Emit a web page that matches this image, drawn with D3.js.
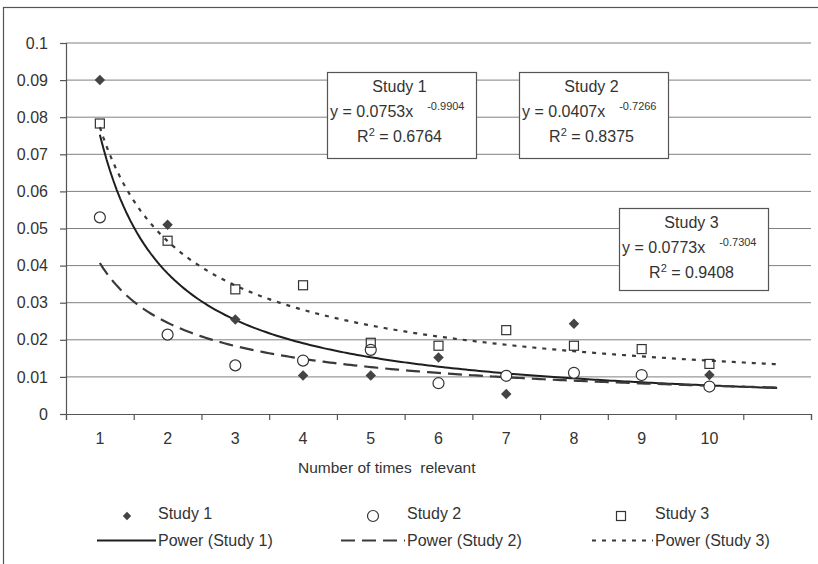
<!DOCTYPE html>
<html>
<head>
<meta charset="utf-8">
<script src="https://cdn.jsdelivr.net/npm/d3@7"></script>
<style>
  body { margin: 0; background: #fff; }
  text { font-family: "Liberation Sans", Arial, sans-serif; fill: #333; }
</style>
</head>
<body>
<div id="chart"></div>
<script>
// values
var categories = [1, 2, 3, 4, 5, 6, 7, 8, 9, 10];
var study1 = [0.090, 0.051, 0.0255, 0.0104, 0.0104, 0.0152, 0.0054, 0.0243, 0.0104, 0.0105];
var study2 = [0.053, 0.0214, 0.0131, 0.0144, 0.0173, 0.0083, 0.0103, 0.0111, 0.0105, 0.0074];
var study3 = [0.0783, 0.0467, 0.0336, 0.0347, 0.0192, 0.0184, 0.0226, 0.0184, 0.0175, 0.0135];
var yTicks = [0, 0.01, 0.02, 0.03, 0.04, 0.05, 0.06, 0.07, 0.08, 0.09, 0.1];
var seriesNames = ["Study 1", "Study 2", "Study 3"];
// power trendlines y = a * x^b
var trendA = [0.0753, 0.0407, 0.0773];
var trendB = [-0.9904, -0.7266, -0.7304];
var trendR2 = ["0.6764", "0.8375", "0.9408"];

var w = 818, h = 564;
var svg = d3.select("#chart").append("svg")
  .attr("width", w)
  .attr("height", h);

// outer frame
svg.append("rect")
  .attr("x", 3.5).attr("y", 7.5)
  .attr("width", 830).attr("height", 600)
  .attr("fill", "none").attr("stroke", "#555").attr("stroke-width", 1.2);

var x = d3.scaleLinear().domain([0.5, 11.5]).range([66, 811]);
var y = d3.scaleLinear().domain([0, 0.1]).range([414, 43]);

// gridlines
svg.append("g").selectAll("line")
  .data(yTicks.slice(1))
  .enter().append("line")
  .attr("x1", 66).attr("x2", 811)
  .attr("y1", d => y(d)).attr("y2", d => y(d))
  .attr("stroke", "#808080").attr("stroke-width", 1);

// y axis
var yAxis = svg.append("g")
  .attr("transform", "translate(66,0)")
  .call(d3.axisLeft(y).tickValues(yTicks).tickSize(6).tickPadding(12)
    .tickFormat(d => d === 0 ? "0" : d3.format(".2~f")(d)));
yAxis.selectAll("text").style("font-size", "16px").attr("fill", "#333");

// x axis: boundaries as ticks, labels centred on categories
var xAxis = svg.append("g")
  .attr("transform", "translate(0,414)")
  .call(d3.axisBottom(x).tickValues(d3.range(0.5, 12, 1)).tickSize(6).tickFormat(""));
svg.append("g").selectAll("text")
  .data(categories)
  .enter().append("text")
  .attr("x", d => x(d)).attr("y", 444)
  .attr("text-anchor", "middle")
  .style("font-size", "16px")
  .text(d => d);
svg.selectAll(".domain, .tick line").attr("stroke", "#555").attr("stroke-width", 1.2);

svg.append("text")
  .attr("x", 298).attr("y", 473)
  .style("font-size", "15.5px")
  .style("white-space", "pre")
  .text("Number of times  relevant");

// trendlines
var dashes = [null, "14,7", "4,6"];
var line = d3.line().x(d => x(d[0])).y(d => y(d[1]));
trendA.forEach(function (a, i) {
  var pts = d3.range(1, 11.001, 0.05).map(t => [t, a * Math.pow(t, trendB[i])]);
  svg.append("path")
    .attr("d", line(pts))
    .attr("fill", "none")
    .attr("stroke", i === 0 ? "#1e1e1e" : "#3a3a3a")
    .attr("stroke-width", i === 0 ? 2 : 2.2)
    .attr("stroke-dasharray", dashes[i]);
});

// markers
function drawMarker(g, kind, cx, cy, s) {
  if (kind === 0) {
    g.append("path")
      .attr("d", d3.symbol().type(d3.symbolDiamond2).size(s || 70)())
      .attr("transform", "translate(" + cx + "," + cy + ")")
      .attr("fill", "#444");
  } else if (kind === 1) {
    g.append("circle").attr("cx", cx).attr("cy", cy).attr("r", 5.5)
      .attr("fill", "#fff").attr("stroke", "#333").attr("stroke-width", 1.2);
  } else {
    g.append("rect").attr("x", cx - 4.5).attr("y", cy - 4.5)
      .attr("width", 9).attr("height", 9)
      .attr("fill", "none").attr("stroke", "#333").attr("stroke-width", 1.2);
  }
}
var marks = svg.append("g");
[study1, study2, study3].forEach(function (vals, i) {
  vals.forEach(function (v, j) {
    if (v != null) drawMarker(marks, i, x(categories[j]), y(v));
  });
});

// equation boxes
var boxes = [
  {x: 327, y: 72, w: 149, h: 86},
  {x: 519, y: 72, w: 149, h: 86},
  {x: 619, y: 208, w: 149, h: 82}
];
boxes.forEach(function (b, i) {
  var g = svg.append("g").attr("transform", "translate(" + b.x + "," + b.y + ")");
  g.append("rect").attr("x", 0.5).attr("y", 0.5).attr("width", b.w).attr("height", b.h)
    .attr("fill", "#fff").attr("stroke", "#555").attr("stroke-width", 1.2);
  g.append("text").attr("x", b.w / 2 - 2).attr("y", 20)
    .attr("text-anchor", "middle").style("font-size", "16px")
    .text(seriesNames[i]);
  var eq = g.append("text").attr("x", 3).attr("y", 45).style("font-size", "16px");
  eq.append("tspan").text("y = " + trendA[i].toFixed(4) + "x");
  eq.append("tspan").attr("dx", 14).attr("dy", -7).style("font-size", "11px")
    .text(trendB[i].toFixed(4));
  var r2 = g.append("text").attr("x", b.w / 2 - 2).attr("y", 70)
    .attr("text-anchor", "middle").style("font-size", "16px");
  r2.append("tspan").text("R");
  r2.append("tspan").attr("dy", -6).style("font-size", "11px").text("2");
  r2.append("tspan").attr("dy", 6).text(" = " + trendR2[i]);
});

// legend
var legX = [[127, 158], [373, 407], [621, 655]];
seriesNames.forEach(function (name, i) {
  drawMarker(svg, i, legX[i][0], 516, 45);
  svg.append("text").attr("x", legX[i][1]).attr("y", 519)
    .style("font-size", "16px").text(name);
  var lx0 = [97, 341, 592][i];
  svg.append("line")
    .attr("x1", lx0).attr("x2", legX[i][1] - 2)
    .attr("y1", 540.5).attr("y2", 540.5)
    .attr("stroke", i === 0 ? "#1e1e1e" : "#3a3a3a")
    .attr("stroke-width", 2)
    .attr("stroke-dasharray", dashes[i]);
  svg.append("text").attr("x", legX[i][1]).attr("y", 546)
    .style("font-size", "16px").text("Power (" + name + ")");
});
</script>
</body>
</html>
